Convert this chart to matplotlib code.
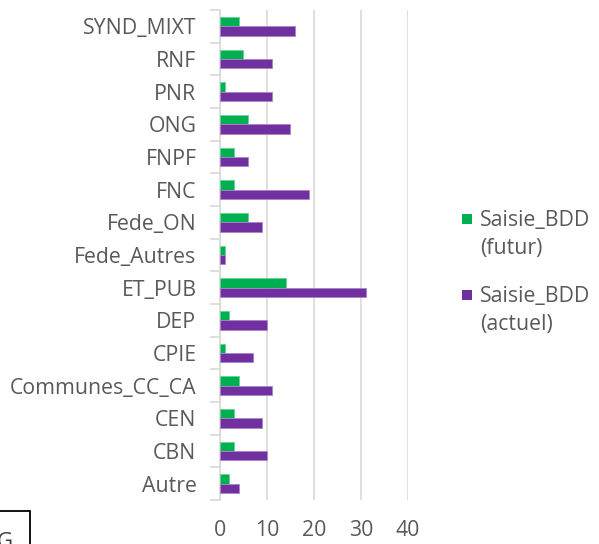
import matplotlib
matplotlib.use("Agg")
import matplotlib.pyplot as plt
from matplotlib.patches import Rectangle
import numpy as np

plt.rcParams['font.family'] = ['Open Sans', 'DejaVu Sans']

categories = ["Autre", "CBN", "CEN", "Communes_CC_CA", "CPIE", "DEP", "ET_PUB",
              "Fede_Autres", "Fede_ON", "FNC", "FNPF", "ONG", "PNR", "RNF", "SYND_MIXT"]
futur = [2, 3, 3, 4, 1, 2, 14, 1, 6, 3, 3, 6, 1, 5, 4]
actuel = [4, 10, 9, 11, 7, 10, 31, 1, 9, 19, 6, 15, 11, 11, 16]
x_ticks = [0, 10, 20, 30, 40]
series_labels = ["Saisie_BDD\n(futur)", "Saisie_BDD\n(actuel)"]

green = "#00B050"
purple = "#7030A0"
text_color = "#595959"
grid_color = "#D9D9D9"
fs = 15.3

W, H = 599, 544
fig = plt.figure(figsize=(W / 100, H / 100), dpi=100)
ax = fig.add_axes([220 / W, 1 - 500 / H, (408 - 220) / W, (500 - 10) / H])

y = np.arange(len(categories))
bh = 0.285
ax.barh(y + bh / 2, futur, height=bh, color=green, edgecolor="#66D396", linewidth=0.6, zorder=3)
ax.barh(y - bh / 2, actuel, height=bh, color=purple, edgecolor="#A985C6", linewidth=0.6, zorder=3)

ax.set_xlim(0, 40)
ax.set_ylim(-0.5, len(categories) - 0.5)
ax.set_xticks(x_ticks)
ax.set_xticklabels([str(v) for v in x_ticks])
ax.xaxis.grid(True, color=grid_color, linewidth=1.2, zorder=0)
ax.set_axisbelow(True)

ax.set_yticks(y)
ax.set_yticklabels(categories)
ax.set_yticks(np.arange(-0.5, len(categories), 1), minor=True)
ax.tick_params(axis="y", which="major", length=0, pad=17, labelsize=fs, labelcolor=text_color)
ax.tick_params(axis="y", which="minor", length=7, width=1.2, color=grid_color)
ax.tick_params(axis="x", length=0, pad=14.5, labelsize=fs, labelcolor=text_color)

for side in ["top", "right", "bottom"]:
    ax.spines[side].set_visible(False)
ax.spines["left"].set_color(grid_color)
ax.spines["left"].set_linewidth(1.2)

# legend: colour square beside the first line of each two-line label
for (top_px, color, label) in [(214, green, series_labels[0]), (290, purple, series_labels[1])]:
    fig.patches.append(Rectangle((462 / W, 1 - (top_px + 10) / H), 10 / W, 10 / H,
                                 transform=fig.transFigure, facecolor=color, edgecolor="none"))
    fig.text(480 / W, 1 - (top_px - 4) / H, label, fontsize=fs, color=text_color,
             ha="left", va="top", linespacing=1.42)

# boxed label at the lower-left corner, partly outside the canvas
fig.patches.append(Rectangle((-5 / W, 1 - 560 / H), 35 / W, 49 / H, transform=fig.transFigure,
                             facecolor="white", edgecolor="black", linewidth=1.3))
fig.text(-3 / W, 1 - 548 / H, "G", fontsize=16, color="#404040", ha="left", va="baseline")

fig.savefig("out.png", dpi=100)
